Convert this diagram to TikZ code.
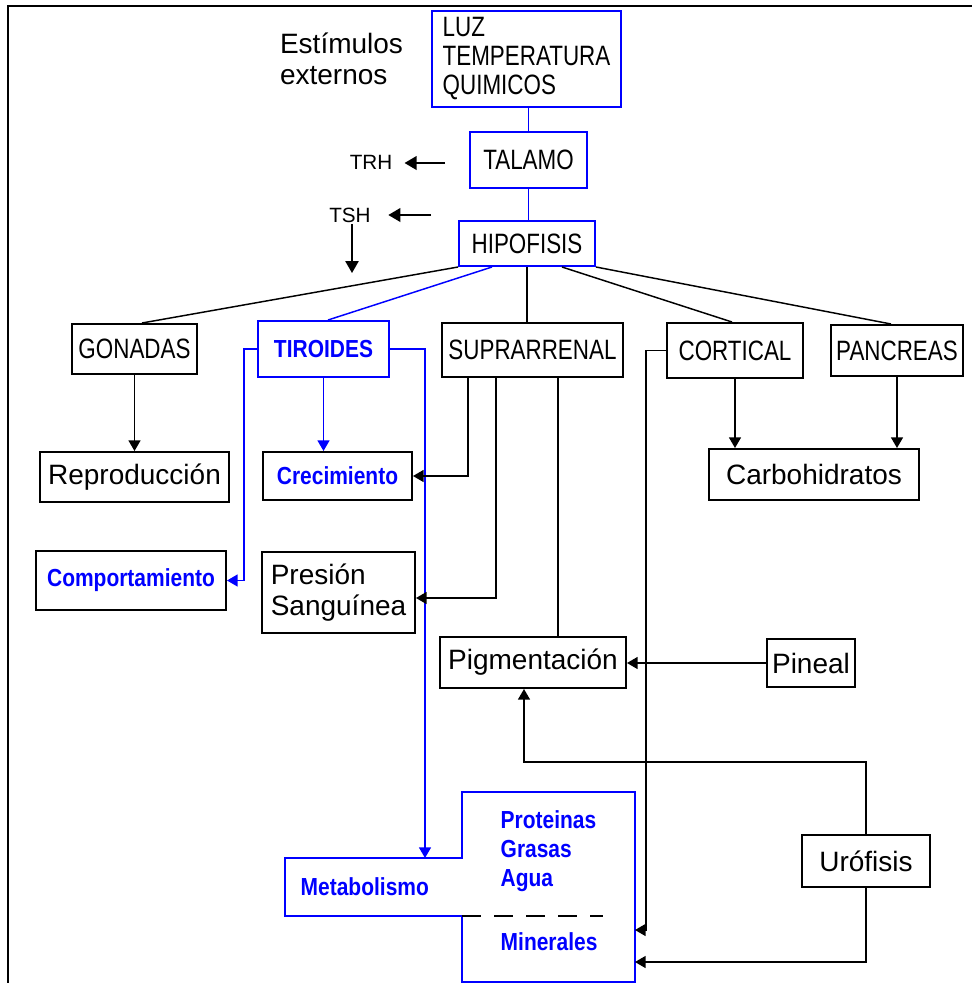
\documentclass[tikz,border=0pt]{standalone}
\usepackage{fontspec}
\usepackage{xcolor}
\usetikzlibrary{arrows.meta,calc}
\setmainfont{Liberation Sans}
\newfontfamily\skcapsfont{Liberation Sans}[FakeStretch=0.8]
\newfontfamily\blufont{Liberation Sans}[FakeStretch=0.85]
\definecolor{cblue}{RGB}{0,0,255}
\newcommand\skfont{\fontsize{21}{23}\selectfont}
\newcommand\skcaps{\skcapsfont\fontsize{21}{21.75}\selectfont}
\newcommand\skblue{\blufont\bfseries\fontsize{18.5}{22}\selectfont}
\newcommand\smallsans{\fontsize{15.5}{18}\selectfont}

\begin{document}
\begin{tikzpicture}[x=0.75pt,y=0.75pt,yscale=-1,xscale=1,
  box/.style={draw, line width=1.5pt, inner sep=0pt, font=\skfont},
  capbox/.style={box, font=\skcaps},
  bbox/.style={capbox, draw=cblue},
  btxt/.style={font=\skblue, text=cblue},
  conn/.style={line width=1.1pt},
  arr/.style={conn, -{Triangle[length=8pt,width=9pt]}},
  barr/.style={arr, draw=cblue},
  bigarr/.style={line width=1.8pt, -{Triangle[length=9pt,width=10pt]}}]
\useasboundingbox (0,0) rectangle (972,983);

%Frame
\draw[line width=1.5pt] (972,6) -- (8,6) -- (8,983);

% Text Node
\node[font=\skfont, align=left] (estim) at (341.5,58.5) {Estímulos\\externos};
%Shape: Rectangle
\node[bbox, minimum width=141.75pt, minimum height=72pt, align=left] (luz) at (526.5,59) {LUZ\\TEMPERATURA\\QUIMICOS};
%Shape: Rectangle
\node[bbox, minimum width=87.75pt, minimum height=42pt] (talamo) at (528.5,160) {TALAMO};
%Shape: Rectangle
\node[bbox, minimum width=102pt, minimum height=33.75pt] (hipo) at (527,243.5) {HIPOFISIS};
% Text Node
\node[font=\smallsans, inner sep=1pt] (trh) at (371,162) {TRH};
% Text Node
\node[font=\smallsans, inner sep=1pt] (tsh) at (350,215) {TSH};
\coordinate (trhin) at (445,163);
\coordinate (tshin) at (431,215);
\coordinate (tshdown) at (352,273);

%Straight Lines
\draw[conn, cblue] (talamo.north |- luz.south) -- (talamo.north);
\draw[conn, cblue] (talamo.south) -- (talamo.south |- hipo.north);
\draw[bigarr, shorten >=8pt] (trhin) -- (trh.east |- trhin);
\draw[bigarr, shorten >=12pt] (tshin) -- (tsh.east |- tshin);
\draw[bigarr, line width=1.2pt] (tshdown |- tsh.south) -- (tshdown);

%Shape: Rectangle
\node[capbox, minimum width=93.75pt, minimum height=37.5pt] (gon) at (134.5,349) {GONADAS};
\node[box, draw=cblue, btxt, minimum width=98.25pt, minimum height=42pt] (tir) at (323.5,349) {TIROIDES};
\node[capbox, minimum width=135.75pt, minimum height=40.5pt] (supra) at (532.5,350) {SUPRARRENAL};
\node[capbox, minimum width=102pt, minimum height=41.25pt] (cort) at (735,350.5) {CORTICAL};
\node[capbox, minimum width=99pt, minimum height=38.25pt] (panc) at (897,350.5) {PANCREAS};

%Straight Lines
\draw[conn] (hipo.south west) -- ($(gon.north)+(7.5,0)$);
\draw[conn, cblue] ($(hipo.south west)+(34,0)$) -- ($(tir.north)+(4.5,0)$);
\draw[conn] (hipo.south) -- (hipo.south |- supra.north);
\draw[conn] ($(hipo.south east)+(-34,0)$) -- ($(cort.north)+(-3,0)$);
\draw[conn] (hipo.south east) -- ($(panc.north)+(-6,0)$);

%Shape: Rectangle
\node[box, minimum width=141.75pt, minimum height=37.5pt] (repro) at (134.5,477) {Reproducción};
\node[box, btxt, minimum width=111.75pt, minimum height=36pt] (crec) at (337.5,476) {Crecimiento};
\node[box, minimum width=157.5pt, minimum height=38.25pt] (carbo) at (814,474.5) {Carbohidratos};
\node[box, btxt, minimum width=142.5pt, minimum height=44.25pt] (comp) at (131,580.5) {Comportamiento};
\node[box, align=left, minimum width=114.75pt, minimum height=60.75pt] (pres) at (338.5,592.5) {Presión\\Sanguínea};
\node[box, minimum width=139.5pt, minimum height=38.25pt] (pigm) at (533,662.5) {Pigmentación};
\node[box, minimum width=66pt, minimum height=36pt] (pin) at (811,663) {Pineal};
\node[box, minimum width=96pt, minimum height=39pt] (uro) at (866,861) {Urófisis};

%Shape: Polygon
\draw[line width=1.5pt, cblue] (285,858) -- (462,858) -- (462,792) -- (635,792) -- (635,982) -- (462,982) -- (462,916) -- (285,916) -- cycle;
\draw[line width=1.5pt, dash pattern=on 14pt off 10pt] (462,916) -- (603,916);
% Text Node
\node[btxt, anchor=west] (metab) at (296,887) {Metabolismo};
\node[btxt, anchor=west, align=left] (prot) at (496,851) {Proteinas\\Grasas\\Agua};
\node[btxt, anchor=west] (miner) at (496,942) {Minerales};
\coordinate (metain) at (425,858);
\coordinate (minin1) at (635,930);
\coordinate (minin2) at (635,962);

%Taps under SUPRARRENAL
\coordinate (s1) at ($(supra.south)+(-64.5,0)$);
\coordinate (s2) at ($(supra.south)+(-36.5,0)$);
\coordinate (s3) at ($(supra.south)+(25.5,0)$);

%Straight Lines
\draw[arr] (gon.south) -- (gon.south |- repro.north);
\draw[barr] (tir.south) -- (tir.south |- crec.north);
\draw[barr] (tir.west) -- ++(-13,0) |- (comp.east);
\draw[barr] (tir.east) -| (metain);
\draw[arr] (s1) |- (crec.east);
\draw[arr] (s2) |- ($(pres.east)+(0,5.5)$);
\draw[conn] (s3) -- (s3 |- pigm.north);
\draw[arr] (cort.west) -- ++(-20,0) |- (minin1);
\draw[arr] (cort.south) -- (cort.south |- carbo.north);
\draw[arr] (panc.south) -- (panc.south |- carbo.north);
\draw[arr] (pin.west) -- (pin.west -| pigm.east);
\draw[arr] (uro.north) -- ++(0,-72) -| ($(pigm.south)+(-9,0)$);
\draw[arr] (uro.south) |- (minin2);

\end{tikzpicture}
\end{document}
